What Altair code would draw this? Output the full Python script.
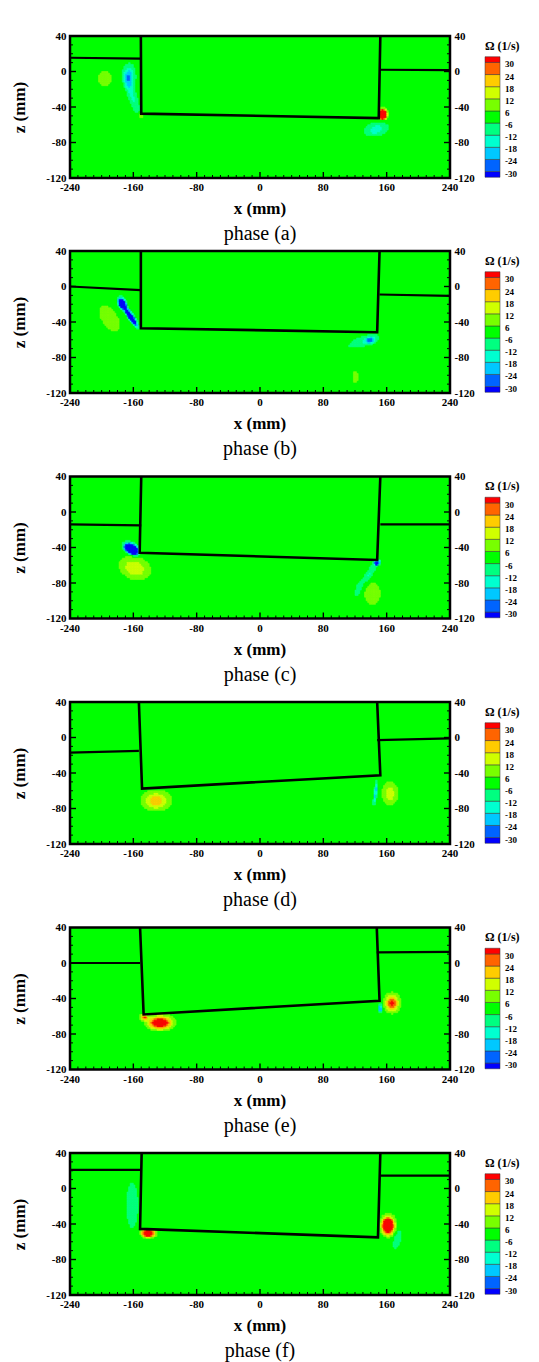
import numpy as np
import pandas as pd
import altair as alt

# ---------------- data ----------------
PHASE_NAMES = ["phase (a)", "phase (b)", "phase (c)", "phase (d)", "phase (e)", "phase (f)"]
X_TITLE = "x (mm)"
Z_TITLE = "z (mm)"
X_TICKS = [-240, -160, -80, 0, 80, 160, 240]
Z_TICKS = [-120, -80, -40, 0, 40]
MINOR_STEP = 10
LEVELS = [-30, -24, -18, -12, -6, 6, 12, 18, 24, 30]
LEVEL_LABELS = ["-30", "-24", "-18", "-12", "-6", "6", "12", "18", "24", "30"]
LEVEL_COLORS = ["#0000ff", "#0064ff", "#00c8ff", "#00ffd0", "#00ff80", "#00ff00",
                "#78ff00", "#d0ff00", "#ffcc00", "#ff6400", "#ff0000"]
CB_TITLE = "Ω (1/s)"

# body outline (mm) per phase a..f
BODY_LT_X = [-150.5, -150.5, -150.0, -153.0, -151.5, -149.5]   # left wall at z = 40
BODY_LB_X = [-150.0, -150.5, -152.0, -149.0, -147.0, -151.5]   # bottom-left corner
BODY_LB_Z = [-47.5, -47.0, -46.0, -57.5, -58.0, -45.5]
BODY_RB_X = [150.0, 148.0, 148.0, 152.0, 151.0, 149.0]         # bottom-right corner
BODY_RB_Z = [-52.5, -51.5, -54.0, -42.5, -42.5, -55.0]
BODY_RT_X = [152.0, 151.0, 152.0, 148.0, 147.5, 152.0]         # right wall at z = 40
# free surface (mm)
SURF_L_OUT = [15.5, 0.0, -14.0, -17.0, 0.0, 21.0]   # at x = -240
SURF_L_IN = [14.5, -4.0, -15.0, -15.0, 0.0, 21.0]   # at left wall
SURF_R_IN = [2.0, -9.0, -14.0, -3.0, 12.0, 14.5]    # at right wall
SURF_R_OUT = [1.5, -10.5, -14.0, -1.0, 12.5, 14.5]  # at x = 240

# vortices: phase, centre x, centre z, peak vorticity, outer radius 1, outer radius 2, angle
V_PHASE = [0, 0, 0, 0, 0, 0,
           1, 1, 1, 1, 1, 1,
           2, 2, 2, 2, 2, 2,
           3, 3, 3,
           4, 4, 4, 4,
           5, 5, 5, 5]
V_X = [-196, -165, -161, -150, 155, 147,
       -174, -163, -190, 140, 130, 120.5,
       -162, -158, 148, 138, 124, 142,
       -131, 146, 164.5,
       -126, -146, 152, 167,
       -161.5, -141, 162, 173.5]
V_Z = [-8, -5, -28, -50, -48, -65,
       -19, -34, -36, -60, -62, -102,
       -41.5, -63, -57, -70, -88, -92,
       -71, -62, -63,
       -67, -61, -51, -45,
       -19, -50, -41.5, -57]
V_PEAK = [10, -22, -13, 14, 120, -16,
          -100, -100, 10, -21, -11, 9,
          -150, 17, -60, -14, -9, 10,
          22, -22, 16,
          47, 28, -40, 32,
          -9, 55, 70, -10]
V_R1 = [8.5, 8, 20, 2.5, 7.5, 15,
        9, 17, 17, 7, 18, 3,
        13, 20, 4.5, 14, 9, 9.5,
        20, 16, 10,
        20, 6, 1.8, 11,
        7, 12, 11, 11]
V_R2 = [8.5, 14, 5, 2.5, 7.5, 7.5,
        6, 4, 9, 4, 5, 6,
        7.5, 13, 3.5, 4, 3, 12,
        12, 2.2, 13,
        10, 4, 7, 12,
        25, 6.5, 14, 4]
V_ANG = [0, 0, -70, 0, 0, 10,
         -60, -53, -50, 10, 15, 0,
         -25, -15, 0, 55, 75, 0,
         0, 82, 0,
         0, 0, 0, 0,
         0, 0, 0, 70]

# ---------------- layout / style ----------------
W, H = 380, 142
CB_X, CB_W = 415, 15          # colour bar offset from plot's left edge, width (px)
FONT = "Liberation Serif"
GRID = 2.0

xsc = alt.Scale(domain=[X_TICKS[0], X_TICKS[-1]], nice=False, zero=False)
zsc = alt.Scale(domain=[Z_TICKS[0], Z_TICKS[-1]], nice=False, zero=False)
cbsc = alt.Scale(domain=[-0.53, 11.18], nice=False, zero=False)
csc = alt.Scale(domain=list(range(len(LEVEL_COLORS))), range=LEVEL_COLORS)
LBL = "'' + datum.value"


def field_cells(p):
    xs = np.arange(X_TICKS[0] + GRID / 2, X_TICKS[-1], GRID)
    zs = np.arange(Z_TICKS[0] + GRID / 2, Z_TICKS[-1], GRID)
    X, Z = np.meshgrid(xs, zs)
    om = np.zeros_like(X)
    for i in range(len(V_PHASE)):
        if V_PHASE[i] != p:
            continue
        a = V_PEAK[i]
        k = np.sqrt(2 * np.log(abs(a) / 6.0))
        s1, s2 = V_R1[i] / k, V_R2[i] / k
        t = np.deg2rad(V_ANG[i])
        dx, dz = X - V_X[i], Z - V_Z[i]
        u = dx * np.cos(t) + dz * np.sin(t)
        v = -dx * np.sin(t) + dz * np.cos(t)
        om += a * np.exp(-0.5 * ((u / s1) ** 2 + (v / s2) ** 2))
    top = Z_TICKS[-1]
    lt, lbx, lbz = BODY_LT_X[p], BODY_LB_X[p], BODY_LB_Z[p]
    rt, rbx, rbz = BODY_RT_X[p], BODY_RB_X[p], BODY_RB_Z[p]
    xl = lbx + (lt - lbx) * (Z - lbz) / (top - lbz)
    xr = rbx + (rt - rbx) * (Z - rbz) / (top - rbz)
    zb = lbz + (rbz - lbz) * (X - lbx) / (rbx - lbx)
    inside = (X > xl) & (X < xr) & (Z > zb)
    sl = SURF_L_OUT[p] + (SURF_L_IN[p] - SURF_L_OUT[p]) * (X - X_TICKS[0]) / (lt - X_TICKS[0])
    sr = SURF_R_IN[p] + (SURF_R_OUT[p] - SURF_R_IN[p]) * (X - rt) / (X_TICKS[-1] - rt)
    above = ((X <= xl) & (Z > sl)) | ((X >= xr) & (Z > sr))
    lev = np.searchsorted(LEVELS, om)
    keep = (lev != 5) & ~inside & ~above
    return pd.DataFrame({
        "x": X[keep] - GRID / 2, "x2": X[keep] + GRID / 2,
        "z": Z[keep] - GRID / 2, "z2": Z[keep] + GRID / 2,
        "lev": lev[keep],
    })


x_major = X_TICKS[1:-1]
x_minor = [v for v in range(X_TICKS[0] + MINOR_STEP, X_TICKS[-1], MINOR_STEP) if v not in X_TICKS]
z_major = Z_TICKS[1:-1]
z_minor = [v for v in range(Z_TICKS[0] + MINOR_STEP, Z_TICKS[-1], MINOR_STEP) if v not in Z_TICKS]

label_style = dict(labelFont=FONT, labelFontWeight="bold", labelFontSize=11, labelColor="black",
                   labelExpr=LBL, ticks=False, domain=False, grid=False, labelOverlap=False)

n_lev = len(LEVEL_COLORS)
cb_df = pd.DataFrame({
    "lev": list(range(n_lev)),
    "lo": [-0.47] + list(range(0, n_lev - 2)) + [n_lev - 2],
    "hi": [0] + list(range(1, n_lev - 1)) + [n_lev - 2 + 0.47],
})
cb_lbl_df = pd.DataFrame({"b": list(range(len(LEVELS))), "t": LEVEL_LABELS})
x_lbl_df = pd.DataFrame({"v": X_TICKS, "t": [str(v) for v in X_TICKS]})


def panel(p):
    cells = alt.Chart(field_cells(p)).mark_rect(strokeWidth=0.6, clip=True).encode(
        x=alt.X("x:Q", scale=xsc, axis=None),
        x2="x2:Q",
        y=alt.Y("z:Q", scale=zsc, axis=alt.Axis(values=Z_TICKS, labelPadding=4, labelFlush=False,
                                               title=Z_TITLE, titleFont=FONT, titleFontSize=17,
                                               titleFontWeight="bold", titleColor="black",
                                               titlePadding=17, **label_style)),
        y2="z2:Q",
        color=alt.Color("lev:O", scale=csc, legend=None),
        stroke=alt.Stroke("lev:O", scale=csc, legend=None),
    )
    lt, rt = BODY_LT_X[p], BODY_RT_X[p]
    surf = pd.DataFrame({
        "seg": ["L", "L", "R", "R"],
        "x": [X_TICKS[0], lt, rt, X_TICKS[-1]],
        "z": [SURF_L_OUT[p], SURF_L_IN[p], SURF_R_IN[p], SURF_R_OUT[p]],
    })
    surf_l = alt.Chart(surf).mark_line(color="black", strokeWidth=2.2).encode(
        x=alt.X("x:Q", scale=xsc, axis=None), y=alt.Y("z:Q", scale=zsc, axis=None), detail="seg:N")
    body = pd.DataFrame({
        "o": [0, 1, 2, 3],
        "x": [lt, BODY_LB_X[p], BODY_RB_X[p], rt],
        "z": [Z_TICKS[-1], BODY_LB_Z[p], BODY_RB_Z[p], Z_TICKS[-1]],
    })
    body_l = alt.Chart(body).mark_line(color="black", strokeWidth=2.6).encode(
        x=alt.X("x:Q", scale=xsc, axis=None), y=alt.Y("z:Q", scale=zsc, axis=None), order="o:Q")

    def xt(vals, ln, sw):
        return alt.Chart(pd.DataFrame({"v": vals})).mark_rule(color="black", strokeWidth=sw).encode(
            x=alt.X("v:Q", scale=xsc, axis=None), y=alt.value(H), y2=alt.value(H - ln))

    def zt(vals, ln, sw, side, axis=None):
        x0 = 0 if side == "l" else W
        x1 = ln if side == "l" else W - ln
        return alt.Chart(pd.DataFrame({"v": vals})).mark_rule(color="black", strokeWidth=sw).encode(
            y=alt.Y("v:Q", scale=zsc, axis=axis), x=alt.value(x0), x2=alt.value(x1))

    right_axis = alt.Axis(orient="right", values=Z_TICKS, labelPadding=4, labelFlush=False,
                          title=None, **label_style)

    x_lbl = alt.Chart(x_lbl_df).mark_text(
        align="center", baseline="middle", font=FONT, fontSize=11, fontWeight="bold", color="black"
    ).encode(x=alt.X("v:Q", scale=xsc, axis=None), y=alt.value(H + 10), text="t:N")
    x_ttl = alt.Chart(pd.DataFrame({"t": [X_TITLE]})).mark_text(
        align="center", baseline="middle", font=FONT, fontSize=17, fontWeight="bold", color="black"
    ).encode(text="t:N", x=alt.value(W / 2), y=alt.value(H + 31))

    cb_rect = alt.Chart(cb_df).mark_rect(stroke="#333333", strokeWidth=0.5).encode(
        x=alt.value(CB_X), x2=alt.value(CB_X + CB_W),
        y=alt.Y("lo:Q", scale=cbsc, axis=None), y2="hi:Q",
        color=alt.Color("lev:O", scale=csc, legend=None),
    )
    cb_lbl = alt.Chart(cb_lbl_df).mark_text(
        align="left", baseline="middle", dy=2, font=FONT, fontSize=9, fontWeight="bold", color="black"
    ).encode(y=alt.Y("b:Q", scale=cbsc, axis=None), x=alt.value(CB_X + CB_W + 5), text="t:N")
    cb_ttl = alt.Chart(pd.DataFrame({"t": [CB_TITLE]})).mark_text(
        align="left", baseline="middle", font=FONT, fontSize=12, fontWeight="bold", color="black"
    ).encode(text="t:N", x=alt.value(CB_X), y=alt.value(9.5))

    layers = [cells, surf_l, body_l,
              xt(x_major, 6, 1.4), xt(x_minor, 3, 1.0),
              zt(z_major, 6, 1.4, "l"), zt(z_minor, 3, 1.0, "l"),
              zt(z_major, 6, 1.4, "r", right_axis), zt(z_minor, 3, 1.0, "r"),
              x_lbl, x_ttl, cb_rect, cb_lbl, cb_ttl]
    return alt.layer(*layers).resolve_scale(y="independent").properties(
        width=W, height=H,
        view=alt.ViewBackground(fill="#00ff00", stroke="black", strokeWidth=2.5),
        title=alt.TitleParams(PHASE_NAMES[p], orient="bottom", font=FONT, fontSize=20,
                              fontWeight="normal", color="black", offset=7),
    )


rows = [panel(p) for p in range(6)]
chart = alt.vconcat(
    rows[0],
    alt.vconcat(*rows[1:], spacing=7.5),
    spacing=-3,
).properties(
    padding={"left": 9, "top": 28, "right": 0, "bottom": 0},
    background="white",
).configure_view(strokeWidth=0)

chart.save("out.html", embed_options={"renderer": "svg", "actions": False})
